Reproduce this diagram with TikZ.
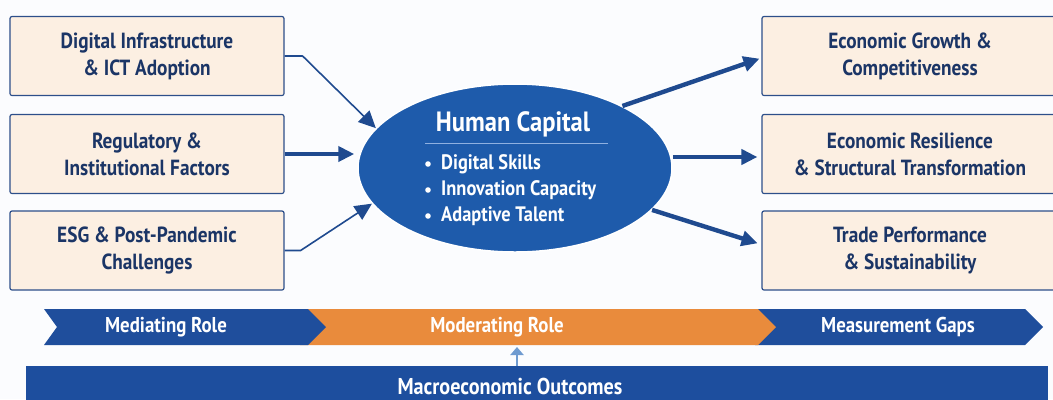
\documentclass[tikz,border=0pt]{standalone}
\usepackage{fontspec}
\setmainfont[FakeStretch=0.88]{PT Sans}
\usetikzlibrary{arrows.meta,shapes.geometric}

\definecolor{bgcol}{HTML}{FBFCFE}
\definecolor{boxfill}{HTML}{FCEFE2}
\definecolor{boxline}{HTML}{2D4F8A}
\definecolor{navy}{HTML}{1B3566}
\definecolor{hcblue}{HTML}{1E5BAB}
\definecolor{arrcol}{HTML}{1F4A8F}
\definecolor{chevblue}{HTML}{1F4E9C}
\definecolor{chevorange}{HTML}{E98B3C}
\definecolor{bandblue}{HTML}{1D4E9E}
\definecolor{rulecol}{HTML}{8FB0E0}
\definecolor{uparrcol}{HTML}{6F9BD0}

\begin{document}
\begin{tikzpicture}[x=1bp,y=-1bp,
  factorbox/.style={rectangle, rounded corners=2bp, draw=boxline, line width=1.2bp,
    fill=boxfill, text=navy, align=center, inner sep=0pt,
    minimum height=79bp, font=\bfseries\fontsize{22}{27}\selectfont},
  leftbox/.style={factorbox, minimum width=274bp},
  rightbox/.style={factorbox, minimum width=296bp},
  hcell/.style={ellipse, fill=hcblue, draw=white, line width=1.5bp,
    minimum width=314bp, minimum height=168bp, inner sep=0pt},
  hctitle/.style={text=white, font=\bfseries\fontsize{28}{32}\selectfont, inner sep=0pt},
  hcitem/.style={text=white, anchor=west, inner sep=0pt,
    font=\bfseries\fontsize{21}{24}\selectfont},
  thinarr/.style={draw=arrcol, line width=1.6bp, line join=round,
    -{Triangle[length=17bp,width=16bp]}},
  thickarr/.style={draw=arrcol, line width=4.4bp,
    -{Triangle[length=16bp,width=15bp]}},
  chevtext/.style={text=white, font=\bfseries\fontsize{21.5}{24}\selectfont, inner sep=0pt},
  bandtext/.style={text=white, font=\bfseries\fontsize{23}{26}\selectfont, inner sep=0pt},
  uparr/.style={draw=uparrcol, line width=2.2bp, -{Triangle[length=8bp,width=13bp]}}
]
\useasboundingbox (0,0) rectangle (1053,399);
\clip (0,0) rectangle (1053,399);
\fill[bgcol] (0,0) rectangle (1053,399);

% input factors
\node[leftbox] (l1) at (147,56) {Digital Infrastructure\\\& ICT Adoption};
\node[leftbox] (l2) at (147,154) {Regulatory \&\\Institutional Factors};
\node[leftbox] (l3) at (147,250.5) {ESG \& Post-Pandemic\\Challenges};

% outcomes
\node[rightbox] (r1) at (910,56) {Economic Growth \&\\Competitiveness};
\node[rightbox] (r2) at (910,154) {Economic Resilience\\\& Structural Transformation};
\node[rightbox] (r3) at (910,250.5) {Trade Performance\\\& Sustainability};

% central human capital ellipse
\node[hcell] (hc) at (515,168) {};
\node[hctitle] (hct) at (513,124) {Human Capital};
\draw[rulecol, line width=1bp] (425,143) -- (608,143);
\node[hcitem] (b1) at (441,164) {Digital Skills};
\node[hcitem] (b2) at (441,190) {Innovation Capacity};
\node[hcitem] (b3) at (441,216) {Adaptive Talent};
\foreach \yy in {164,190,216} \fill[white] (428,\yy) circle (2.8);

% connectors into the ellipse
\draw[thinarr] (l1.east) -- ++(18,0) -- (hc.164);
\draw[thickarr, shorten >=3bp] (l2.east) -- (l2.east -| hc.west);
\draw[thinarr] (l3.east) -- ++(16,0) -- (hc.194);

% connectors out of the ellipse
\coordinate (r1in) at ([yshift=-2bp]r1.west);
\coordinate (r2in) at ([yshift=-3bp]r2.west);
\coordinate (r3in) at ([yshift=6bp]r3.west);
\draw[thickarr, shorten >=2bp] (hc.30) -- (r1in);
\draw[thickarr, shorten >=4bp] (hc.east |- r2in) -- (r2in);
\draw[thickarr, shorten >=4bp] (hc.-17) -- (r3in);

% chevron strip
\fill[chevblue] (755,309) -- (1025,309) -- (1043,327) -- (1025,345) -- (755,345) -- cycle;
\fill[chevorange] (300,309) -- (758,309) -- (776,327) -- (758,345) -- (300,345) -- cycle;
\fill[chevblue] (44,309) -- (308,309) -- (326,327) -- (308,345) -- (44,345) -- (57,327) -- cycle;
\node[chevtext] (c1) at (166,327) {Mediating Role};
\node[chevtext] (c2) at (497,327) {Moderating Role};
\node[chevtext] (c3) at (898,327) {Measurement Gaps};

% outcome band
\fill[bandblue] (26,366) rectangle (1048,410);
\node[bandtext] (mo) at (510,386) {Macroeconomic Outcomes};
\coordinate (bandtop) at (517,366);
\coordinate (chevbottom) at (517,347);
\draw[uparr] (bandtop) -- (chevbottom);
\end{tikzpicture}
\end{document}
